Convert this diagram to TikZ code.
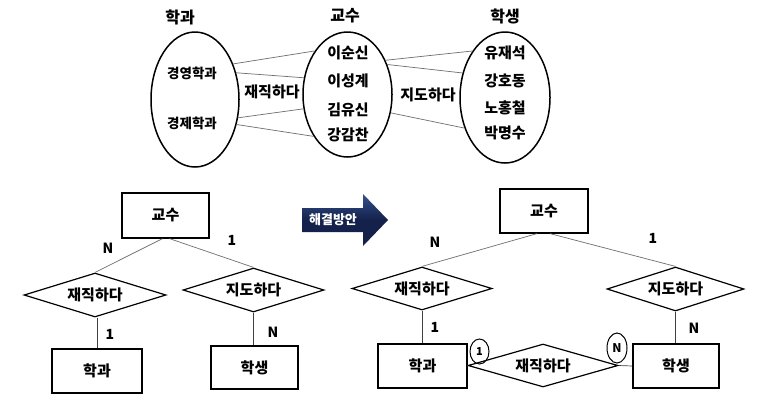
\documentclass[tikz,border=0pt]{standalone}
\usepackage{fontspec}
\setmainfont{Noto Sans CJK KR}
\usetikzlibrary{shapes.geometric}
\definecolor{navyA}{HTML}{14214A}
\definecolor{navyB}{HTML}{34528F}
\definecolor{linkgray}{HTML}{6E6E6E}
\begin{document}
\begin{tikzpicture}[x=1pt,y=-1pt,
  hdtxt/.style={font=\bfseries\fontsize{16}{16}\selectfont, inner sep=0},
  txt/.style={font=\bfseries\fontsize{15}{15}\selectfont, inner sep=0},
  smalltxt/.style={font=\bfseries\fontsize{13.5}{14}\selectfont, inner sep=0},
  setell/.style={draw, ellipse, line width=1.5pt, inner sep=0},
  ent/.style={draw, line width=1.2pt, inner sep=0, font=\bfseries\fontsize{15}{15}\selectfont},
  rel/.style={draw, diamond, aspect=3.2, line width=1.2pt, inner sep=0, font=\bfseries\fontsize{15}{15}\selectfont},
  card/.style={font=\bfseries\fontsize{14}{14}\selectfont, inner sep=0},
  link/.style={draw=linkgray, line width=0.7pt},
  vlink/.style={draw=black!75, line width=0.7pt}]
\useasboundingbox (0,0) rectangle (778,416);
\fill[white] (0,0) rectangle (778,416);

% ---------- top: sets ----------
\node[hdtxt] (hL) at (180,17) {학과};
\node[hdtxt] (hM) at (345,16) {교수};
\node[hdtxt] (hR) at (505,16) {학생};

\node[setell, minimum width=88pt, minimum height=135pt] (L) at (195,99.5) {};
\node[setell, minimum width=89pt, minimum height=125pt] (M) at (347.5,94.5) {};
\node[setell, minimum width=90pt, minimum height=131pt] (R) at (505,97.5) {};

\node[smalltxt] (l1) at (192,73) {경영학과};
\node[smalltxt] (l2) at (192,123) {경제학과};

\node[txt] (m1) at (348,53) {이순신};
\node[txt] (m2) at (348,81) {이성계};
\node[txt] (m3) at (348,110) {김유신};
\node[txt] (m4) at (348,135) {강감찬};

\node[txt] (r1) at (505,53) {유재석};
\node[txt] (r2) at (505,81) {강호동};
\node[txt] (r3) at (505,108) {노홍철};
\node[txt] (r4) at (505,133) {박명수};

\node[txt] (t1) at (272,92) {재직하다};
\node[txt] (t2) at (428,95) {지도하다};

\draw[link] (L.43) -- (M.127);
\draw[link] (L.33) -- (M.159);
\draw[link] (L.-23) -- (M.198);
\draw[link] (L.-31) -- (M.231);
\draw[link] (M.42) -- (R.125);
\draw[link] (M.37) -- (R.150);
\draw[link] (M.-23) -- (R.217);

% ---------- bottom left ----------
\node[ent, minimum width=87pt, minimum height=45pt] (B1) at (165.5,215.5) {교수};
\node[rel, minimum width=142pt, minimum height=44pt] (D1) at (95,295) {재직하다};
\node[rel, minimum width=141pt, minimum height=44pt] (D2) at (253.5,290) {지도하다};
\node[ent, minimum width=90pt, minimum height=44pt] (A1) at (97,371) {학과};
\node[ent, minimum width=87pt, minimum height=43pt] (S1) at (254.5,367.5) {학생};

\draw[link] ([xshift=-3pt]B1.south) -- (D1.north);
\draw[link] ([xshift=4pt]B1.south) -- (D2.north);
\draw[vlink] (D1.south -| A1.north) -- (A1.north);
\draw[vlink] (D2.south) -- (D2.south |- S1.north);

\node[card] (c1) at (108,248) {N};
\node[card] (c2) at (232,240) {1};
\node[card] (c3) at (110,334) {1};
\node[card] (c4) at (273,332) {N};

% ---------- arrow ----------
\shade[top color=navyB, bottom color=navyA, middle color=navyA]
  (302,208) -- (363,208) -- (363,194) -- (388,220) -- (363,246) -- (363,232) -- (302,232) -- cycle;
\node[font=\bfseries\fontsize{13}{13}\selectfont, text=white, inner sep=0] (sol) at (333,220) {해결방안};

% ---------- bottom right ----------
\node[ent, minimum width=88pt, minimum height=44pt] (B2) at (544,211) {교수};
\node[rel, minimum width=140pt, minimum height=43pt] (D3) at (422,288.5) {재직하다};
\node[rel, minimum width=137pt, minimum height=44pt] (D4) at (675.5,289) {지도하다};
\node[ent, minimum width=89pt, minimum height=44pt] (A2) at (422.5,366) {학과};
\node[ent, minimum width=86pt, minimum height=44pt] (S2) at (676,366) {학생};
\node[rel, minimum width=150pt, minimum height=43pt] (D5) at (543,365.5) {재직하다};

\draw[link] ([xshift=-7pt]B2.south) -- (D3.north);
\draw[link] ([xshift=6pt]B2.south) -- (D4.north);
\draw[vlink] (D3.south) -- (D3.south |- A2.north);
\draw[vlink] (D4.south) -- (D4.south |- S2.north);
\draw[vlink] (A2.east) -- (D5.west);
\draw[vlink] (D5.east) -- (S2.west);

\node[card] (c5) at (435,242) {N};
\node[card] (c6) at (653,238) {1};
\node[card] (c7) at (435,327) {1};
\node[card] (c8) at (694,328) {N};

\node[draw, ellipse, line width=1pt, minimum width=19pt, minimum height=25pt, inner sep=0,
      font=\bfseries\fontsize{11}{11}\selectfont] (o1) at (479.5,351.5) {1};
\node[draw, ellipse, line width=1pt, minimum width=20pt, minimum height=30pt, inner sep=0,
      font=\bfseries\fontsize{12}{12}\selectfont] (o2) at (617,348) {N};

\end{tikzpicture}
\end{document}
